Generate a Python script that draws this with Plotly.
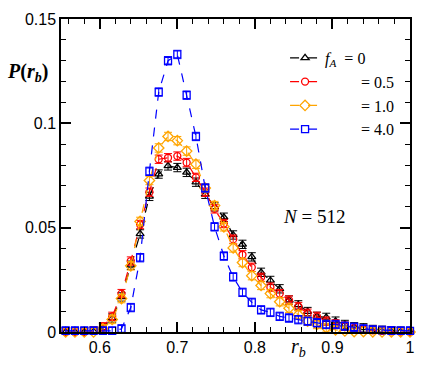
import plotly.graph_objects as go

# bin centres of r_b
rb = [0.556, 0.568, 0.580, 0.592, 0.604, 0.616, 0.628, 0.640, 0.652, 0.664,
      0.676, 0.688, 0.700, 0.712, 0.724, 0.736, 0.748, 0.760, 0.772, 0.784,
      0.796, 0.808, 0.820, 0.832, 0.844, 0.856, 0.868, 0.880, 0.892, 0.904,
      0.916, 0.928, 0.940, 0.952, 0.964, 0.976, 0.988, 1.000]

p_f0 = [0.0, 0.0, 0.0, 0.0003, 0.002, 0.0067, 0.0168, 0.032, 0.047, 0.065,
        0.0757, 0.0796, 0.0788, 0.0765, 0.0718, 0.066, 0.060, 0.055, 0.0465, 0.042,
        0.036, 0.0286, 0.0247, 0.0207, 0.0153, 0.013, 0.0098, 0.0075, 0.007, 0.0052,
        0.0036, 0.0025, 0.002, 0.0012, 0.0008, 0.0005, 0.0003, 0.0002]

p_f05 = [0.0, 0.0, 0.0, 0.0005, 0.0025, 0.0075, 0.0184, 0.034, 0.0515, 0.067,
         0.0828, 0.0835, 0.0843, 0.0812, 0.0741, 0.067, 0.059, 0.052, 0.0445, 0.037,
         0.031, 0.0262, 0.0215, 0.0184, 0.0153, 0.0122, 0.009, 0.0075, 0.0052, 0.0039,
         0.0028, 0.002, 0.0012, 0.0008, 0.0005, 0.0003, 0.0002, 0.0001]

p_f1 = [0.0, 0.0, 0.0, 0.0, 0.0015, 0.006, 0.016, 0.0317, 0.053, 0.0726,
        0.0882, 0.0937, 0.0917, 0.0867, 0.0804, 0.069, 0.0606, 0.0504, 0.0403, 0.0333,
        0.027, 0.0223, 0.0184, 0.0145, 0.0114, 0.0083, 0.0052, 0.0036, 0.002, 0.001,
        0.0005, 0.0002, 0.0002, 0.0001, 0.0, 0.0, 0.0, 0.0]

p_f4 = [0.0005, 0.0005, 0.0005, 0.0005, 0.0005, 0.0005, 0.0015, 0.0117, 0.0356, 0.077,
        0.115, 0.130, 0.133, 0.1135, 0.0937, 0.069, 0.0504, 0.0364, 0.0264, 0.019,
        0.0142, 0.0106, 0.0094, 0.0075, 0.0067, 0.0059, 0.0052, 0.0044, 0.0036, 0.0036,
        0.0028, 0.0023, 0.0015, 0.001, 0.0008, 0.0006, 0.0005, 0.0005]

pad = "&nbsp;" * 9
series = [
    ("<i>f</i><sub><i>A</i></sub>&nbsp;&nbsp;=&nbsp;0", p_f0, "black", "triangle-up-open"),
    (pad + "=&nbsp;0.5", p_f05, "red", "circle-open"),
    (pad + "=&nbsp;1.0", p_f1, "orange", "diamond-open"),
    (pad + "=&nbsp;4.0", p_f4, "blue", "square-open"),
]

fig = go.Figure()
for name, ys, col, sym in series:
    fig.add_trace(go.Scatter(
        x=rb, y=ys, name=name, mode="lines+markers", cliponaxis=False,
        line=dict(color=col, width=1.2, dash="dash"),
        marker=dict(symbol=sym, size=7 if sym != "diamond-open" else 8,
                    color=col, line=dict(width=1.3, color=col)),
        error_y=dict(type="constant", value=0.002, color=col, thickness=1, width=4),
    ))

# empty trace so the mirrored tick axes get drawn
fig.add_trace(go.Scatter(x=[], y=[], xaxis="x2", yaxis="y2", showlegend=False,
                         hoverinfo="skip"))

tickfont = dict(family="Liberation Sans, Arial", size=16, color="black")
axis_common = dict(
    showline=True, linecolor="black", linewidth=1.5, mirror=True,
    ticks="inside", ticklen=10, tickwidth=1.5, tickcolor="black",
    showgrid=False, zeroline=False,
)
xminor = dict(dtick=0.02, tick0=0, ticks="inside", ticklen=5, tickwidth=1, tickcolor="black")
yminor = dict(dtick=0.01, tick0=0, ticks="inside", ticklen=5, tickwidth=1, tickcolor="black")

fig.update_layout(
    xaxis=dict(range=[0.55, 1.0], tick0=0, dtick=0.1, minor=xminor, tickfont=tickfont,
               **axis_common),
    yaxis=dict(range=[0, 0.15], tick0=0, dtick=0.05, minor=yminor, tickfont=tickfont,
               **axis_common),
    xaxis2=dict(range=[0.55, 1.0], tick0=0, dtick=0.1, minor=xminor, overlaying="x",
                side="top", anchor="y", showticklabels=False, **axis_common),
    yaxis2=dict(range=[0, 0.15], tick0=0, dtick=0.05, minor=yminor, overlaying="y",
                side="right", anchor="x", showticklabels=False, **axis_common),
)

serif = "Liberation Serif, Times New Roman, serif"
fig.add_annotation(xref="paper", yref="paper", x=-0.16, y=0.83, xanchor="left",
                   yanchor="middle", showarrow=False,
                   text="<b><i>P</i>(<i>r<sub>b</sub></i>)</b>",
                   font=dict(family=serif, size=20, color="black"))
fig.add_annotation(xref="paper", yref="paper", x=0.681, y=-0.05, xanchor="center",
                   yanchor="middle", showarrow=False,
                   text="<i>r<sub>b</sub></i>",
                   font=dict(family=serif, size=20, color="black"))
fig.add_annotation(xref="paper", yref="paper", x=0.726, y=0.37, xanchor="center",
                   yanchor="middle", showarrow=False,
                   text="<i>N</i> = 512",
                   font=dict(family=serif, size=19, color="black"))

fig.update_layout(
    width=426, height=367,
    margin=dict(l=61, r=11, t=15, b=32),
    plot_bgcolor="white", paper_bgcolor="white",
    legend=dict(x=0.642, y=0.93, xanchor="left", yanchor="top",
                bgcolor="rgba(0,0,0,0)",
                font=dict(family=serif, size=16, color="black")),
)

fig.write_html("out.html", config={"displayModeBar": False},
               post_script="document.body.style.margin='0';")
